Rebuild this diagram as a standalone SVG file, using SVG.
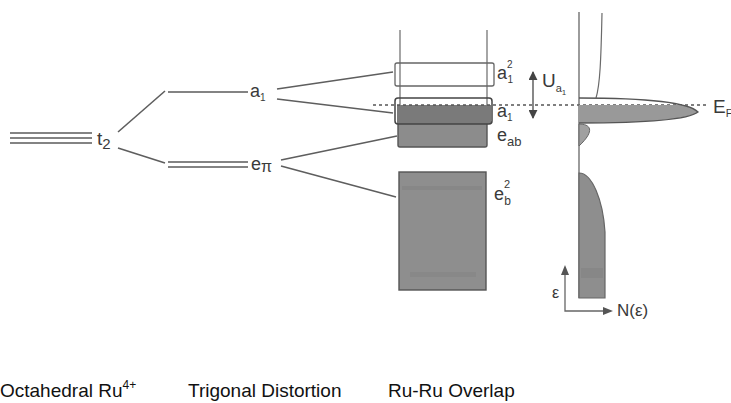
<svg xmlns="http://www.w3.org/2000/svg" width="731" height="403" viewBox="0 0 731 403">
  <style>
    .lvl { stroke: #5a5a5a; stroke-width: 1.6; fill: none; }
    .conn { stroke: #5e5e5e; stroke-width: 1.6; fill: none; }
    .thin { stroke: #6a6a6a; stroke-width: 1.2; fill: none; }
    .lbl { font-family: "Liberation Sans", Arial, Helvetica, sans-serif; fill: #3a3a3a; }
    .cap { font-family: "Liberation Sans", Arial, Helvetica, sans-serif; fill: #111; font-size: 19px; }
    .band { stroke: #555; stroke-width: 1.4; }
  </style>
  <defs>
    <marker id="head" viewBox="0 0 10 10" refX="9" refY="5" markerWidth="9" markerHeight="9" orient="auto-start-reverse" markerUnits="userSpaceOnUse">
      <path d="M0,0 L10,5 L0,10 Z" fill="#444"/>
    </marker>
    <clipPath id="belowEF">
      <rect x="570" y="105" width="150" height="30"/>
    </clipPath>
  </defs>

  <!-- octahedral t2 level -->
  <g id="t2">
    <line class="lvl" x1="10" y1="133" x2="92" y2="133"/>
    <line class="lvl" x1="10" y1="138" x2="92" y2="138"/>
    <line class="lvl" x1="10" y1="143" x2="92" y2="143"/>
    <text class="lbl" x="97" y="145" font-size="19">t<tspan font-size="15" dy="4">2</tspan></text>
  </g>

  <!-- trigonal a1 level -->
  <g id="a1-trig">
    <line class="lvl" x1="168" y1="92" x2="248" y2="92"/>
    <text class="lbl" x="250" y="97" font-size="18">a<tspan font-size="10" dy="4">1</tspan></text>
  </g>

  <!-- trigonal e-pi level -->
  <g id="epi-trig">
    <line class="lvl" x1="168" y1="162" x2="248" y2="162"/>
    <line class="lvl" x1="168" y1="167" x2="248" y2="167"/>
    <text class="lbl" x="251" y="170" font-size="18">e<tspan font-size="16" dy="2">π</tspan></text>
  </g>

  <!-- Ru-Ru overlap bands -->
  <g id="bands">
    <line class="thin" x1="400" y1="30" x2="400" y2="124"/>
    <line class="thin" x1="487" y1="30" x2="487" y2="124"/>
    <!-- empty upper a1 band -->
    <rect x="395" y="63" width="99" height="23" rx="2" fill="none" stroke="#666" stroke-width="1.3"/>
    <!-- e_ab band -->
    <rect class="band" x="398" y="122" width="89" height="25" rx="2" fill="#8c8c8c"/>
    <!-- half-filled lower a1 band -->
    <rect x="397" y="105" width="94" height="19" fill="#7a7a7a"/>
    <rect x="395" y="98" width="97" height="26" rx="3" fill="none" stroke="#444" stroke-width="1.5"/>
    <!-- e_b band -->
    <rect class="band" x="399" y="172" width="87" height="118" fill="#8e8e8e"/>
    <rect x="402" y="186" width="80" height="4" fill="#7a7a7a" opacity="0.35"/>
    <rect x="410" y="272" width="66" height="5" fill="#7c7c7c" opacity="0.3"/>
  </g>

  <g id="band-labels">
    <text class="lbl" x="497" y="79" font-size="18">a<tspan font-size="10" dx="0" dy="-11">2</tspan><tspan font-size="10" dx="-5" dy="15">1</tspan></text>
    <text class="lbl" x="497" y="117" font-size="18">a<tspan font-size="10" dy="4">1</tspan></text>
    <text class="lbl" x="497" y="141" font-size="18">e<tspan font-size="13" dy="5">ab</tspan></text>
    <text class="lbl" x="494" y="200" font-size="18">e<tspan font-size="11" dy="-12">2</tspan><tspan font-size="12" dx="-6" dy="17">b</tspan></text>
  </g>

  <!-- correlation connectors -->
  <g id="connectors">
    <line class="conn" x1="118" y1="132" x2="165" y2="91"/>
    <line class="conn" x1="118" y1="148" x2="165" y2="163"/>
    <line class="conn" x1="277" y1="89" x2="393" y2="72"/>
    <line class="conn" x1="277" y1="99" x2="393" y2="113"/>
    <line class="conn" x1="281" y1="160" x2="397" y2="136"/>
    <line class="conn" x1="281" y1="166" x2="396" y2="197"/>
  </g>

  <!-- Fermi level -->
  <g id="fermi">
    <line x1="373" y1="105" x2="706" y2="105" stroke="#555" stroke-width="1.4" stroke-dasharray="3,3"/>
    <text class="lbl" x="713" y="113" font-size="19">E<tspan font-size="11" dy="4">F</tspan></text>
  </g>

  <!-- Hubbard splitting U -->
  <g id="U">
    <line x1="533" y1="72" x2="533" y2="118" stroke="#555" stroke-width="1.4" marker-start="url(#head)" marker-end="url(#head)"/>
    <text class="lbl" x="542" y="87" font-size="19">U<tspan font-size="11" dy="5">a</tspan><tspan font-size="8" dy="3">1</tspan></text>
  </g>

  <!-- density of states -->
  <g id="dos">
    <line x1="579" y1="12" x2="579" y2="298" stroke="#666" stroke-width="1.3"/>
    <path d="M602,13 C601,60 600,85 596,98" class="thin"/>
    <path d="M579,98 C640,98 688,102 698,112 C688,120 640,123 579,123 Z" fill="#999" clip-path="url(#belowEF)"/>
    <path d="M579,98 C640,98 688,102 698,112 C688,120 640,123 579,123" fill="none" stroke="#555" stroke-width="1.3"/>
    <path d="M579,124 C590,124 596,130 579,146 Z" fill="#a0a0a0" stroke="#666" stroke-width="1"/>
    <path d="M579,173 C592,173 603,200 605,232 L605,298 L579,298 Z" fill="#8e8e8e" stroke="#666" stroke-width="1.2"/>
    <rect x="581" y="268" width="22" height="10" fill="#7a7a7a" opacity="0.35"/>
  </g>

  <!-- DOS axes -->
  <g id="axes">
    <polyline points="565,269 565,311 609,311" fill="none" stroke="#666" stroke-width="1.3"/>
    <path d="M565,265 L561,275 L569,275 Z" fill="#555"/>
    <path d="M613,311 L603,307 L603,315 Z" fill="#555"/>
    <text class="lbl" x="552" y="298" font-size="16">ε</text>
    <text class="lbl" x="617" y="316" font-size="17">N(ε)</text>
  </g>

  <!-- column captions -->
  <g id="captions">
    <text class="cap" x="0" y="397">Octahedral Ru<tspan font-size="12" dy="-8">4+</tspan></text>
    <text class="cap" x="188" y="397">Trigonal Distortion</text>
    <text class="cap" x="388" y="397">Ru-Ru Overlap</text>
  </g>
</svg>
